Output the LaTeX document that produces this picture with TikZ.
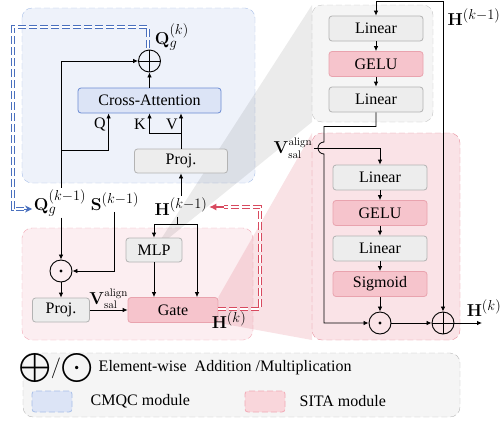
\documentclass[tikz,border=0pt]{standalone}
\usepackage[no-math]{fontspec}
\setmainfont{Liberation Serif}
\usepackage{amsmath}
\usepackage{tikz}
\usetikzlibrary{arrows.meta,positioning,backgrounds}
\definecolor{regblue}{HTML}{EEF2FA}
\definecolor{regblueline}{HTML}{A8BFE8}
\definecolor{crossfill}{HTML}{DCE4F6}
\definecolor{crossline}{HTML}{6B8BD3}
\definecolor{boxfill}{HTML}{EDEDED}
\definecolor{boxline}{HTML}{B3B3B3}
\definecolor{pinkfill}{HTML}{F6C4CC}
\definecolor{pinkline}{HTML}{E9A3AE}
\definecolor{sitafill}{HTML}{FCEEF1}
\definecolor{sitaline}{HTML}{F2AAB6}
\definecolor{gatereg}{HTML}{FAE3E7}
\definecolor{gateregline}{HTML}{E8909E}
\definecolor{mlpreg}{HTML}{F5F5F5}
\definecolor{mlpregline}{HTML}{C4C4C4}
\definecolor{legline}{HTML}{B8B8B8}
\definecolor{lineblue}{HTML}{4A70BE}
\definecolor{linered}{HTML}{D84A5F}
\tikzstyle{blk}=[draw=boxline,fill=boxfill,rounded corners=3pt,minimum width=94pt,
  minimum height=25pt,inner sep=0pt]
\tikzstyle{pinkblk}=[blk,draw=pinkline,fill=pinkfill]
\tikzstyle{lbl}=[inner sep=1.5pt]
\tikzstyle{mlbl}=[inner sep=1.5pt,font=\fontsize{19}{22}\selectfont]
\tikzstyle{small}=[inner sep=1pt,font=\fontsize{16}{18}\selectfont]
\tikzstyle{region}=[rounded corners=10pt,dash pattern=on 6pt off 3pt]
\tikzstyle{swatch}=[region,rounded corners=3pt,minimum width=40pt,minimum height=21pt]
\tikzstyle{dbl}=[double=white,double distance=1.3pt,line width=1.1pt,
  dash pattern=on 8pt off 3pt]
\tikzstyle{addop}=[draw,circle,inner sep=0pt,minimum size=22pt,line width=0.9pt,
  path picture={\draw[line width=0.9pt] (path picture bounding box.north) --
  (path picture bounding box.south) (path picture bounding box.west) --
  (path picture bounding box.east);}]
\tikzstyle{mulop}=[draw,circle,inner sep=0pt,minimum size=22pt,line width=0.9pt,
  path picture={\fill (path picture bounding box.center) circle (1.6pt);}]

\begin{document}
\begin{tikzpicture}[x=1pt,y=-1pt,>={Latex[length=5pt,width=4.5pt]},
  node distance=35.5pt,on grid,line width=0.8pt,
  font=\fontsize{16}{19}\selectfont]
  \useasboundingbox (0,0) rectangle (503,421);

  % CMQC
  \node[blk,draw=crossline,fill=crossfill,minimum width=143pt] (cross) at (149.5,100.5) {Cross-Attention};
  \node[addop] (add1) at (149.5,61) {};
  \node[mlbl,anchor=west] (qk) at (153,37) {$\mathbf{Q}_g^{(k)}$};
  \node[blk,minimum width=93pt,minimum height=24pt] (proj1) at (181,161) {Proj.};
  \node[mlbl,anchor=base] (qprev) at (60,210) {$\mathbf{Q}_g^{(k-1)}$};
  \node[mlbl,anchor=base] (sprev) at (115,210) {$\mathbf{S}^{(k-1)}$};
  \node[mlbl,anchor=base] (hprev) at (181,215) {$\mathbf{H}^{(k-1)}$};
  \node[lbl] (qlab) at (100,124) {Q};
  \node[lbl] (klab) at (140,124) {K};
  \node[lbl] (vlab) at (172,124) {V};

  % SITA
  \node[blk,minimum width=56pt,minimum height=24pt] (mlp) at (154,250) {MLP};
  \node[pinkblk,minimum width=90pt] (gate) at (173,310) {Gate};
  \node[mulop] (mul1) at (61,271) {};
  \node[blk,minimum width=57pt,minimum height=24pt] (proj2) at (61,310) {Proj.};
  \node[mlbl] (hk1) at (229,320) {$\mathbf{H}^{(k)}$};

  % MLP detail
  \node[blk] (lin1) at (376,28.5) {Linear};
  \node[pinkblk,below=of lin1] (gelu1) {GELU};
  \node[blk,below=of gelu1] (lin2) {Linear};
  \coordinate (hin) at (443,1);
  \node[mlbl] (hlab) at (474,17) {$\mathbf{H}^{(k-1)}$};

  % Gate detail
  \node[blk] (lin3) at (380,177.5) {Linear};
  \node[pinkblk,below=of lin3] (gelu2) {GELU};
  \node[blk,below=of gelu2] (lin4) {Linear};
  \node[pinkblk,below=of lin4] (sig) {Sigmoid};
  \node[mulop] (mul2) at (380,323) {};
  \node[addop] (add2) at (443,323) {};
  \coordinate (out) at (482,323);
  \node[mlbl] (hk2) at (484,308) {$\mathbf{H}^{(k)}$};
  \node[small] (vsal) at (293,148) {$\mathbf{V}_{\mathrm{sal}}^{\mathrm{align}}$};
  \coordinate (jmp) at (324,148);

  % legend
  \node[font=\fontsize{20}{23}\selectfont] (legsym) at (56,368) {$\displaystyle\bigoplus\!/\!\bigodot$};
  \node[anchor=west] (legtxt) at (95,368) {Element-wise\ \ Addition /Multiplication};
  \node[swatch,draw=regblueline,fill=crossfill] (swblue) at (52,401.5) {};
  \node[anchor=west] (cmqc) at (87,401) {CMQC module};
  \node[swatch,draw=sitaline,fill=pinkfill!70] (swpink) at (265,401.5) {};
  \node[anchor=west] (sita) at (296,401) {SITA module};

  \begin{scope}[on background layer]
    \draw[region,draw=regblueline,fill=regblue] (22,8) rectangle (255,183);
    \draw[region,draw=sitaline,fill=sitafill] (22,228) rectangle (253,340);
    \draw[region,draw=mlpregline,fill=mlpreg] (312,5) rectangle (433,122);
    \draw[region,draw=gateregline,fill=gatereg] (312,133) rectangle (460,340);
    \draw[region,draw=legline,fill=mlpreg] (23,353) rectangle (460,417);
    \fill[black,fill opacity=.08] (mlp.center) -- (312,5) -- (312,122) -- cycle;
    \fill[linered,fill opacity=.16] (gate.north east) -- (312,133) -- (312,340)
      -- (gate.south east) -- cycle;
  \end{scope}

  % CMQC connections
  \coordinate (qsplit) at (61,150);
  \coordinate (kvsplit) at (181,133);
  \draw[->] (qprev.north -| qsplit) |- (add1.west);
  \draw[->] (qsplit) -| ([xshift=31pt]cross.south west);
  \draw[->] (cross.north) -- (add1.south);
  \draw[->] (hprev.north) -- (proj1.south);
  \draw[->] (proj1.north) -- (proj1.north |- cross.south);
  \draw[->] (kvsplit) -| (cross.south);

  % feedback lines
  \coordinate (fb1) at (148,27);
  \coordinate (fb2) at (13,27);
  \coordinate (fb3) at (13,209);
  \coordinate (fb4) at (24,209);
  \draw[dbl,draw=lineblue] ([yshift=2pt]add1.north -| fb1) -- (fb1) -- (fb2) -- (fb3) -- (fb4);
  \draw[-{Stealth[length=7pt,width=7pt]},lineblue,line width=1pt] (fb4) -- (fb4 -| qprev.west);
  \coordinate (rb1) at (260,309);
  \coordinate (rb2) at (260,207);
  \coordinate (rb3) at (224,207);
  \draw[dbl,draw=linered] (gate.east |- rb1) -- (rb1) -- (rb2) -- (rb3);
  \draw[-{Latex[length=7pt,width=7pt]},linered,line width=1.2pt] (rb3) -- (rb3 -| hprev.east);

  % SITA connections
  \coordinate (hsplit) at (177,224);
  \draw[->] (qprev.south -| mul1) -- (mul1.north);
  \draw[->] (sprev.south -| 114,0) |- (mul1.east);
  \draw[->] (mul1.south) -- (proj2.north);
  \draw[->] (proj2.east) -- node[small,above] (vsal1) {$\mathbf{V}_{\mathrm{sal}}^{\mathrm{align}}$} (gate.west);
  \draw ([xshift=-4pt]hprev.south) -- (hsplit);
  \draw[->] (hsplit) -| (mlp.north);
  \draw[->] (hsplit) -| ([xshift=24pt]gate.north);
  \draw[->] (mlp.south) -- (mlp.south |- gate.north);

  % detail connections
  \draw[->] (hin) -| (lin1.north);
  \draw[->] (hin) -- (add2.north);
  \draw[->] (lin1) -- (gelu1);
  \draw[->] (gelu1) -- (lin2);
  \draw[->] (lin2.south) -- ++(0,14) -| ([yshift=6pt]jmp)
    arc[start angle=90,end angle=270,radius=6pt] |- (mul2.west);
  \draw[->] (vsal.east) -| (lin3.north);
  \draw[->] (lin3) -- (gelu2);
  \draw[->] (gelu2) -- (lin4);
  \draw[->] (lin4) -- (sig);
  \draw[->] (sig) -- (mul2);
  \draw[->] (mul2) -- (add2);
  \draw[->] (add2) -- (out);
\end{tikzpicture}
\end{document}
